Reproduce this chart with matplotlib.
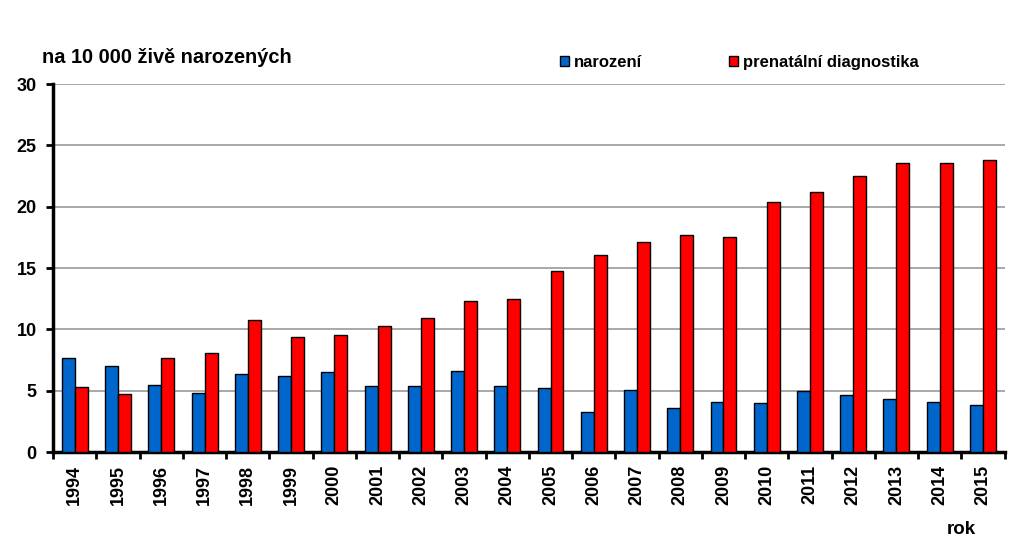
import numpy as np
import matplotlib.pyplot as plt
from matplotlib.patches import Patch

plt.rcParams['font.family'] = ['Liberation Sans', 'DejaVu Sans']
plt.rcParams['font.weight'] = 'bold'

#%% Data

years = ['1994', '1995', '1996', '1997', '1998', '1999', '2000', '2001', '2002', '2003', '2004',
         '2005', '2006', '2007', '2008', '2009', '2010', '2011', '2012', '2013', '2014', '2015']
narozeni = [7.7, 7.0, 5.5, 4.8, 6.4, 6.2, 6.5, 5.4, 5.4, 6.6, 5.4,
            5.25, 3.3, 5.1, 3.6, 4.1, 4.0, 5.0, 4.65, 4.3, 4.05, 3.85]
prenatalni = [5.3, 4.75, 7.7, 8.05, 10.8, 9.35, 9.55, 10.3, 10.95, 12.35, 12.45,
              14.8, 16.1, 17.1, 17.7, 17.5, 20.4, 21.2, 22.5, 23.6, 23.55, 23.8]

#%% Graf

blue = '#0066cc'
red = '#ff0000'

fig = plt.figure(figsize=(10.24, 5.46), dpi=100)
ax = fig.add_axes([0.052, 0.172, 0.929, 0.674])

x = np.arange(len(years))
w = 0.3
ax.bar(x - w/2, narozeni, w, color=blue, edgecolor='black', linewidth=1, zorder=3)
ax.bar(x + w/2, prenatalni, w, color=red, edgecolor='black', linewidth=1, zorder=3)

ax.set_xlim(-0.5, len(years) - 0.5)
ax.set_ylim(0, 30)
ax.set_yticks([0, 5, 10, 15, 20, 25, 30])
ax.yaxis.grid(True, color='#999999', linewidth=1.2, zorder=0)

ax.set_xticks(x)
ax.set_xticklabels(years, rotation=90, fontsize=13, fontweight='bold')
ax.set_xticks(np.arange(-0.5, len(years)), minor=True)
ax.tick_params(axis='x', which='major', length=0, pad=9)
ax.tick_params(axis='x', which='minor', length=5, width=2, direction='out', color='black')
ax.tick_params(axis='y', length=5, width=2, direction='out', labelsize=13, pad=7)
for t in ax.get_yticklabels():
    t.set_fontweight('bold')

for s in ['top', 'right']:
    ax.spines[s].set_visible(False)
ax.spines['left'].set_linewidth(2.5)
ax.spines['bottom'].set_linewidth(2.5)

fig.text(0.041, 0.885, 'na 10 000 živě narozených', fontsize=14.4, fontweight='bold')
fig.text(0.925, 0.022, 'rok', fontsize=13.5, fontweight='bold')

handles = [Patch(facecolor=blue, edgecolor='black', label='narození'),
           Patch(facecolor=red, edgecolor='black', label='prenatální diagnostika')]
fig.legend(handles=handles, loc='center left', bbox_to_anchor=(0.547, 0.886), ncol=2,
           frameon=False, fontsize=12, handlelength=0.55, handleheight=0.55,
           handletextpad=0.3, columnspacing=5.2, borderaxespad=0, borderpad=0)

plt.savefig('out.png', dpi=100)
